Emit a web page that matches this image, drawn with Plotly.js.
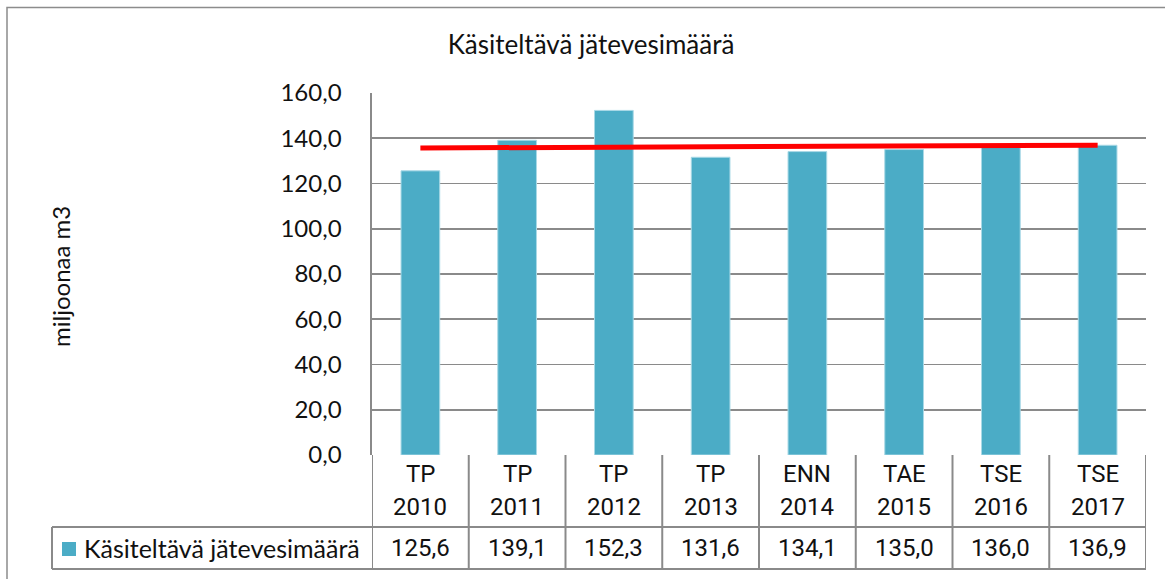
<!DOCTYPE html>
<html>
<head>
<meta charset="utf-8">
<script src="https://cdn.plot.ly/plotly-3.0.1.min.js"></script>
<style>html,body{margin:0;padding:0;background:#fff;}#chart{width:1165px;height:579px;}</style>
</head>
<body>
<div id="chart"></div>
<script>
const categories = ['TP 2010', 'TP 2011', 'TP 2012', 'TP 2013', 'ENN 2014', 'TAE 2015', 'TSE 2016', 'TSE 2017'];
const values = [125.6, 139.1, 152.3, 131.6, 134.1, 135.0, 136.0, 136.9];
const valueLabels = ['125,6', '139,1', '152,3', '131,6', '134,1', '135,0', '136,0', '136,9'];
const trendX = ['TP 2010', 'TSE 2017'];
const trendValues = [135.7, 136.9];
const seriesName = 'Käsiteltävä jätevesimäärä';
const yTickVals = [0, 20, 40, 60, 80, 100, 120, 140, 160];
const yTickText = ['0,0', '20,0', '40,0', '60,0', '80,0', '100,0', '120,0', '140,0', '160,0'];

const W = 1165, H = 579;
const L = 372, R = 1146, T = 93, B = 455;
const px = p => (p - L) / (R - L);
const py = p => (B - p) / (B - T);
const FONT = 'Lato, "Open Sans", sans-serif';
const TFONT = 'Roboto, "Open Sans", sans-serif';
const BAR = '#4BACC6';
const GRID = '#8a8a8a';

const shapes = [];
const annotations = [];

// outer frame
shapes.push({type:'rect', xref:'paper', yref:'paper', x0:px(7), x1:px(1180), y0:py(595), y1:py(7.5),
  line:{color:'#8c8c8c', width:1.5}, layer:'below'});

// table horizontal lines
[527, 569].forEach(y => {
  shapes.push({type:'line', xref:'paper', yref:'paper', x0:px(52), x1:1, y0:py(y), y1:py(y), line:{color:GRID, width:2}});
});
// legend cell left line
shapes.push({type:'line', xref:'paper', yref:'paper', x0:px(52), x1:px(52), y0:py(527), y1:py(569), line:{color:GRID, width:2}});
// vertical table lines at category boundaries
for (let i = 0; i <= categories.length; i++) {
  shapes.push({type:'line', xref:'x', yref:'paper', x0:i - 0.5, x1:i - 0.5, y0:0, y1:py(569), line:{color:GRID, width:2}});
}
// legend key
shapes.push({type:'rect', xref:'paper', yref:'paper', x0:px(62), x1:px(76), y0:py(556), y1:py(542), fillcolor:BAR, line:{width:0}});

const tf = {family:TFONT, size:24, color:'#111'};
categories.forEach((c, i) => {
  const parts = c.split(' ');
  annotations.push({xref:'x', yref:'paper', x:c, y:py(474), text:parts[0], showarrow:false, font:tf, xanchor:'center', yanchor:'middle'});
  annotations.push({xref:'x', yref:'paper', x:c, y:py(507), text:parts[1], showarrow:false, font:tf, xanchor:'center', yanchor:'middle'});
  annotations.push({xref:'x', yref:'paper', x:c, y:py(548), text:valueLabels[i], showarrow:false, font:tf, xanchor:'center', yanchor:'middle'});
});
annotations.push({xref:'paper', yref:'paper', x:px(82), y:py(548), text:seriesName, showarrow:false, font:{family:FONT, size:25, color:'#111'}, xanchor:'left', yanchor:'middle'});
// y axis title
annotations.push({xref:'paper', yref:'paper', x:px(60), y:py(277), text:'miljoonaa m3', textangle:-90, showarrow:false, font:{family:FONT, size:24, color:'#111'}, xanchor:'center', yanchor:'middle'});

const data = [
  {type:'bar', x:categories, y:values, name:seriesName, marker:{color:BAR, line:{color:'#a9d9e6', width:1}}, width:0.4, hoverinfo:'x+y'},
  {type:'scatter', mode:'lines', x:trendX, y:trendValues, line:{color:'#ff0000', width:5}, hoverinfo:'skip'}
];

const layout = {
  width:W, height:H,
  margin:{l:L, r:W - R, t:T, b:H - B, pad:0},
  paper_bgcolor:'#fff', plot_bgcolor:'#fff',
  showlegend:false,
  title:{text:'Käsiteltävä jätevesimäärä', font:{family:FONT, size:26, color:'#111'}, x:591/W, xanchor:'center', y:1 - 45/H, yanchor:'middle'},
  xaxis:{type:'category', range:[-0.5, categories.length - 0.5], showticklabels:false, ticks:'', showgrid:false, zeroline:false, showline:false, fixedrange:true},
  yaxis:{range:[0, 160], tickvals:yTickVals, ticktext:yTickText, showgrid:true, gridcolor:GRID, gridwidth:1.6,
    zeroline:false, showline:true, linecolor:GRID, linewidth:1.6, ticks:'', ticklabelstandoff:24,
    tickfont:{family:FONT, size:24, color:'#111'}, fixedrange:true},
  shapes:shapes,
  annotations:annotations
};

Plotly.newPlot('chart', data, layout, {displayModeBar:false, staticPlot:true});
</script>
</body>
</html>
